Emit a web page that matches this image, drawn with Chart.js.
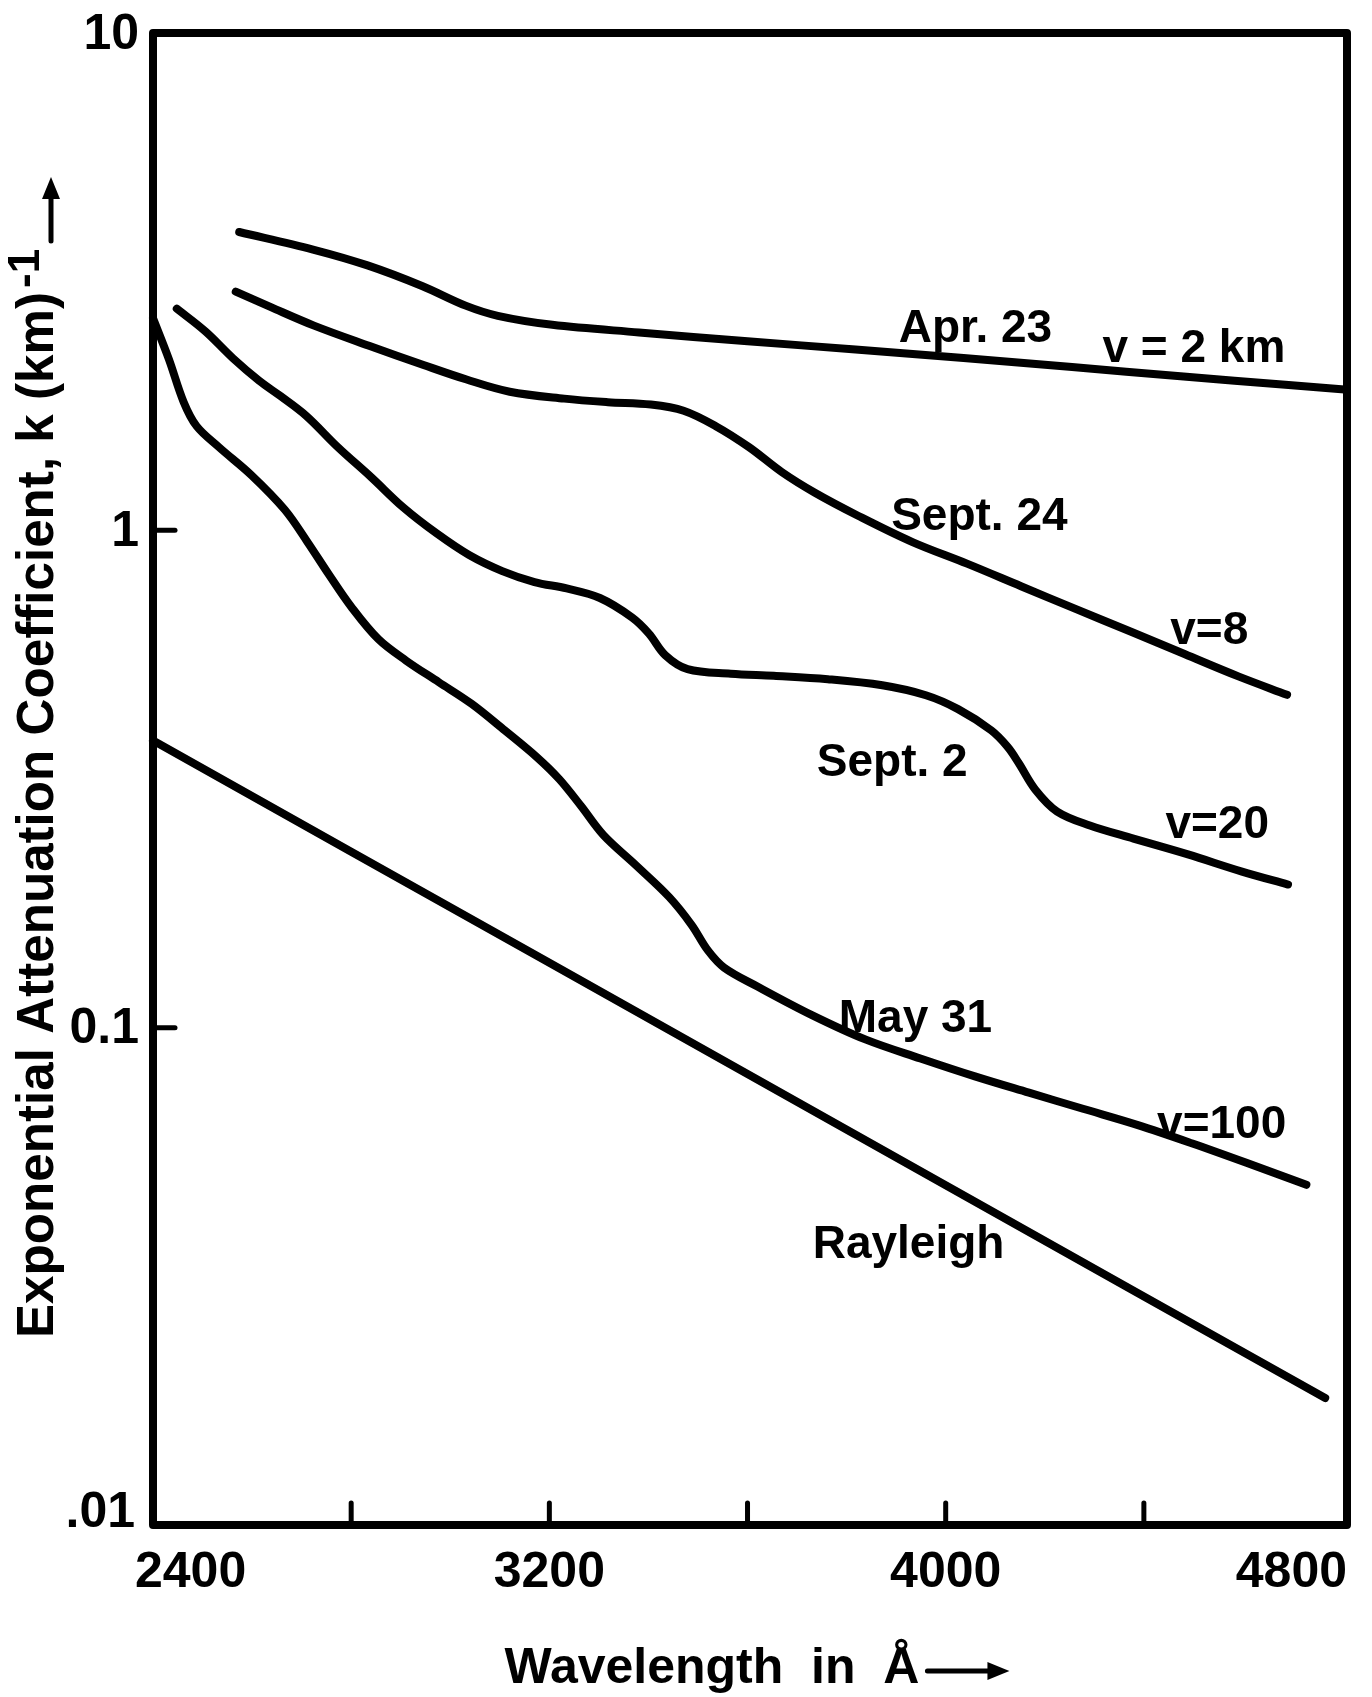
<!DOCTYPE html>
<html>
<head>
<meta charset="utf-8">
<script src="https://cdn.jsdelivr.net/npm/chart.js@4.4.0/dist/chart.umd.min.js"></script>
<style>
  html, body { margin: 0; padding: 0; background: #fff; }
  #wrap { width: 1372px; height: 1697px; position: relative; }
</style>
</head>
<body>
<div id="wrap"><canvas id="chart"></canvas></div>
<script>
// Wavelength (Angstrom) and attenuation coefficient k (km^-1)
const apr23Wl = [2574, 2723, 2833, 2943, 3031, 3096, 3206, 3381, 3600, 3818, 4036, 4255, 4474, 4692, 4805];
const apr23K = [3.98, 3.67, 3.41, 3.10, 2.83, 2.70, 2.59, 2.50, 2.40, 2.31, 2.22, 2.13, 2.04, 1.96, 1.92];

const sept24Wl = [2567, 2638, 2725, 2836, 2946, 3033, 3120, 3230, 3318, 3405, 3471, 3536, 3603, 3669, 3736, 3823, 3933, 4043, 4152, 4262, 4373, 4482, 4592, 4689];
const sept24K = [3.02, 2.81, 2.58, 2.35, 2.15, 2.01, 1.90, 1.84, 1.81, 1.79, 1.74, 1.62, 1.47, 1.31, 1.19, 1.07, 0.947, 0.857, 0.772, 0.695, 0.626, 0.564, 0.508, 0.467];

const sept2Wl = [2448, 2506, 2561, 2614, 2658, 2709, 2773, 2840, 2906, 2973, 3038, 3105, 3170, 3235, 3302, 3367, 3401, 3434, 3479, 3566, 3653, 3762, 3872, 3960, 4025, 4092, 4125, 4147, 4181, 4225, 4291, 4379, 4489, 4598, 4691];
const sept2K = [2.79, 2.51, 2.22, 2.00, 1.86, 1.70, 1.47, 1.28, 1.11, 0.985, 0.892, 0.828, 0.787, 0.764, 0.731, 0.668, 0.620, 0.561, 0.526, 0.515, 0.510, 0.502, 0.488, 0.466, 0.437, 0.396, 0.367, 0.341, 0.301, 0.272, 0.255, 0.240, 0.223, 0.206, 0.194];

const may31Wl = [2400, 2432, 2462, 2488, 2533, 2599, 2666, 2711, 2755, 2800, 2855, 2911, 2977, 3043, 3110, 3176, 3220, 3264, 3309, 3375, 3442, 3487, 3520, 3553, 3620, 3730, 3839, 3949, 4059, 4168, 4277, 4388, 4498, 4607, 4728];
const may31K = [2.67, 2.21, 1.81, 1.62, 1.47, 1.29, 1.10, 0.950, 0.815, 0.702, 0.604, 0.547, 0.495, 0.448, 0.396, 0.349, 0.316, 0.279, 0.244, 0.212, 0.183, 0.161, 0.143, 0.132, 0.121, 0.106, 0.0946, 0.0867, 0.0798, 0.0740, 0.0687, 0.0637, 0.0585, 0.0535, 0.0483];

const rayleighWl = [2400, 3200, 4000, 4766];
const rayleighK = [0.378, 0.135, 0.0482, 0.0180];

// Axes
const xTickValues = [2400, 3200, 4000, 4800];
const xTickLabels = ['2400', '3200', '4000', '4800'];
const xTickMarks = [2800, 3200, 3600, 4000, 4400];
const yTickValues = [10, 1, 0.1, 0.01];
const yTickLabels = ['10', '1', '0.1', '.01'];
const yTickMarks = [1, 0.1];

// Curve labels, anchored in data units
const curveLabels = ['Apr. 23', 'v = 2 km', 'Sept. 24', 'v=8', 'Sept. 2', 'v=20', 'May 31', 'v=100', 'Rayleigh'];
const curveLabelWl = [4060, 4501, 4068, 4532, 3892, 4548, 3939, 4557, 3925];
const curveLabelK = [2.57, 2.35, 1.08, 0.637, 0.345, 0.259, 0.1057, 0.0647, 0.0370];

const yTitle = 'Exponential Attenuation Coefficient, k (km)';
const yTitleSup = '-1';
const xTitle = 'Wavelength  in  Å';

const FONT = '"Liberation Sans", Arial, Helvetica, sans-serif';

function toPoints(xs, ys) {
    return xs.map((x, i) => ({ x: x, y: ys[i] }));
}

function drawArrow(ctx, x1, y1, x2, y2) {
    // line with a filled head at (x2, y2)
    const ang = Math.atan2(y2 - y1, x2 - x1);
    const head = 22;
    ctx.beginPath();
    ctx.moveTo(x1, y1);
    ctx.lineTo(x2 - head * 0.6 * Math.cos(ang), y2 - head * 0.6 * Math.sin(ang));
    ctx.stroke();
    ctx.beginPath();
    ctx.moveTo(x2, y2);
    ctx.lineTo(x2 - head * Math.cos(ang) + 9 * Math.sin(ang), y2 - head * Math.sin(ang) - 9 * Math.cos(ang));
    ctx.lineTo(x2 - head * Math.cos(ang) - 9 * Math.sin(ang), y2 - head * Math.sin(ang) + 9 * Math.cos(ang));
    ctx.closePath();
    ctx.fill();
}

const figurePlugin = {
    id: 'figure',
    afterDatasetsDraw(chart) {
        const ctx = chart.ctx;
        const area = chart.chartArea;
        const xs = chart.scales.x;
        const ys = chart.scales.y;
        ctx.save();
        ctx.strokeStyle = '#000';
        ctx.fillStyle = '#000';

        // Frame
        ctx.lineWidth = 8;
        ctx.lineJoin = 'round';
        ctx.strokeRect(area.left, area.top, area.right - area.left, area.bottom - area.top);

        // Inward tick marks
        ctx.lineWidth = 5;
        ctx.lineCap = 'round';
        xTickMarks.forEach(v => {
            const px = xs.getPixelForValue(v);
            ctx.beginPath();
            ctx.moveTo(px, area.bottom);
            ctx.lineTo(px, area.bottom - 22);
            ctx.stroke();
        });
        yTickMarks.forEach(v => {
            const py = ys.getPixelForValue(v);
            ctx.beginPath();
            ctx.moveTo(area.left, py);
            ctx.lineTo(area.left + 22, py);
            ctx.stroke();
        });

        // X tick labels
        ctx.font = 'bold 50px ' + FONT;
        ctx.textBaseline = 'alphabetic';
        xTickValues.forEach((v, i) => {
            const px = xs.getPixelForValue(v);
            let align = 'center';
            let dx = 0;
            if (i === 0) { align = 'left'; dx = -18; }
            if (i === xTickValues.length - 1) { align = 'right'; dx = 5; }
            ctx.textAlign = align;
            ctx.fillText(xTickLabels[i], px + dx, area.bottom + 62);
        });

        // Y tick labels
        ctx.textAlign = 'right';
        yTickValues.forEach((v, i) => {
            const py = ys.getPixelForValue(v);
            if (i === yTickValues.length - 1) {
                ctx.textBaseline = 'alphabetic';
                ctx.fillText(yTickLabels[i], area.left - 18, py + 2);
            } else {
                ctx.textBaseline = 'middle';
                ctx.fillText(yTickLabels[i], area.left - 14, py + 2);
            }
        });

        // Curve labels
        ctx.font = 'bold 46px ' + FONT;
        ctx.textAlign = 'center';
        ctx.textBaseline = 'alphabetic';
        curveLabels.forEach((t, i) => {
            const px = xs.getPixelForValue(curveLabelWl[i]);
            const py = ys.getPixelForValue(curveLabelK[i]);
            ctx.fillText(t, px, py + 16);
        });

        // X title with arrow
        ctx.font = 'bold 50px ' + FONT;
        ctx.textAlign = 'left';
        const xw = ctx.measureText(xTitle).width;
        const xStart = 757 - (xw + 90) / 2;
        ctx.fillText(xTitle, xStart, 1683);
        ctx.lineWidth = 5;
        drawArrow(ctx, xStart + xw + 8, 1671, xStart + xw + 90, 1671);

        // Y title, rotated, with superscript and arrow
        ctx.save();
        ctx.translate(53, 1338);
        ctx.rotate(-Math.PI / 2);
        ctx.font = 'bold 52px ' + FONT;
        ctx.textAlign = 'left';
        const target = 1046;
        const w = ctx.measureText(yTitle).width;
        if (w > target) {
            ctx.fillText(yTitle, 0, 0, target);
        } else {
            ctx.letterSpacing = ((target - w) / yTitle.length) + 'px';
            ctx.fillText(yTitle, 0, 0);
            ctx.letterSpacing = '0px';
        }
        ctx.font = 'bold 44px ' + FONT;
        ctx.fillText(yTitleSup, target + 4, -14);
        const supW = ctx.measureText(yTitleSup).width;
        ctx.lineWidth = 5;
        drawArrow(ctx, target + supW + 12, -2, 1161, -2);
        ctx.restore();

        ctx.restore();
    }
};

function lineSet(xsArr, ysArr) {
    return {
        data: toPoints(xsArr, ysArr),
        borderColor: '#000',
        borderWidth: 8,
        pointRadius: 0,
        tension: 0.35,
        borderCapStyle: 'round',
        borderJoinStyle: 'round',
        fill: false,
        clip: false
    };
}

new Chart(document.getElementById('chart'), {
    type: 'line',
    data: {
        datasets: [
            lineSet(apr23Wl, apr23K),
            lineSet(sept24Wl, sept24K),
            lineSet(sept2Wl, sept2K),
            lineSet(may31Wl, may31K),
            lineSet(rayleighWl, rayleighK)
        ]
    },
    options: {
        responsive: true,
        maintainAspectRatio: false,
        animation: false,
        layout: { padding: { left: 153, right: 25, top: 33, bottom: 172 } },
        plugins: {
            legend: { display: false },
            tooltip: { enabled: false }
        },
        scales: {
            x: { type: 'linear', min: 2400, max: 4810, display: false },
            y: { type: 'logarithmic', min: 0.01, max: 10, display: false }
        }
    },
    plugins: [figurePlugin]
});
</script>
</body>
</html>
